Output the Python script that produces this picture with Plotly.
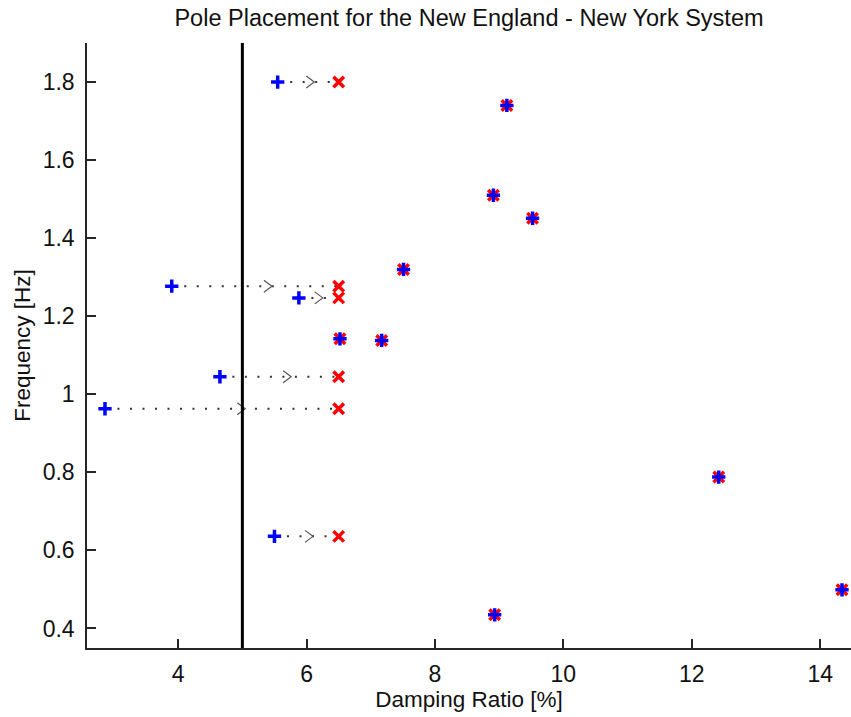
import plotly.graph_objects as go

# ---- data ----
threshold_damping = 5.0

# modes that were moved by the controller (before -> after)
moved_before_damping = [5.55, 3.90, 5.88, 4.65, 2.86, 5.50]
moved_after_damping = [6.50, 6.50, 6.50, 6.50, 6.50, 6.50]
moved_freq = [1.800, 1.277, 1.247, 1.045, 0.963, 0.636]

# modes that were left unchanged (before == after)
fixed_damping = [9.12, 8.91, 9.52, 7.51, 6.52, 7.17, 12.42, 14.34, 8.93]
fixed_freq = [1.740, 1.510, 1.451, 1.320, 1.142, 1.138, 0.788, 0.499, 0.435]

x_tick_vals = [4, 6, 8, 10, 12, 14]
y_tick_vals = [0.4, 0.6, 0.8, 1.0, 1.2, 1.4, 1.6, 1.8]

# ---- layout geometry ----
W, H = 851, 717
ML, MR, MT, MB = 87, 0, 43, 69
x_range = [2.58, 14.48]
y_range = [0.35, 1.90]
px_per_x = (W - ML - MR) / (x_range[1] - x_range[0])
px_per_y = (H - MT - MB) / (y_range[1] - y_range[0])

FONT = "Liberation Sans, Arial, Helvetica, sans-serif"

fig = go.Figure()

# dotted connector lines
lx, ly = [], []
for xb, xa, f in zip(moved_before_damping, moved_after_damping, moved_freq):
    lx += [xb, xa, None]
    ly += [f, f, None]
fig.add_trace(go.Scatter(x=lx, y=ly, mode="lines",
                         line=dict(color="#333333", width=2, dash="2px,10.5px"),
                         hoverinfo="skip"))

# open chevron arrowheads (">") at ~60% of each connector
cx, cy = [], []
arm_dx = 8 / px_per_x
arm_dy = 6 / px_per_y
for xb, xa, f in zip(moved_before_damping, moved_after_damping, moved_freq):
    tip = xb + 0.6 * (xa - xb)
    cx += [tip - arm_dx, tip, tip - arm_dx, None]
    cy += [f + arm_dy, f, f - arm_dy, None]
fig.add_trace(go.Scatter(x=cx, y=cy, mode="lines",
                         line=dict(color="#555555", width=1.2),
                         hoverinfo="skip"))

# red x : placed (after) poles
fig.add_trace(go.Scatter(
    x=moved_after_damping + fixed_damping,
    y=moved_freq + fixed_freq,
    mode="markers", cliponaxis=False,
    marker=dict(symbol="x-thin", size=10.5, color="red",
                line=dict(color="red", width=3.5)),
    name="after"))

# blue + : original (before) poles
fig.add_trace(go.Scatter(
    x=moved_before_damping + fixed_damping,
    y=moved_freq + fixed_freq,
    mode="markers", cliponaxis=False,
    marker=dict(symbol="cross-thin", size=9.5, color="blue",
                line=dict(color="blue", width=3.5)),
    name="before"))

# damping threshold line
fig.add_shape(type="line", xref="x", yref="paper",
              x0=threshold_damping, x1=threshold_damping, y0=0, y1=1,
              line=dict(color="black", width=3))

axis_common = dict(
    showgrid=False, zeroline=False, showline=True, automargin=False,
    linecolor="#262626", linewidth=1.5,
    ticks="inside", ticklen=9, tickwidth=1.5, tickcolor="#262626",
    tickfont=dict(family=FONT, size=23, color="#111111"),
    mirror=False,
)

fig.update_layout(
    width=W, height=H,
    margin=dict(l=ML, r=MR, t=MT, b=MB, autoexpand=False),
    paper_bgcolor="white", plot_bgcolor="white",
    showlegend=False,
    title=dict(text="Pole Placement for the New England - New York System",
               font=dict(family=FONT, size=23.5, color="#111111"),
               x=(ML + (W - MR)) / 2 / W, xanchor="center",
               y=1 - 18 / H, yanchor="middle", yref="container"),
    xaxis=dict(range=x_range, tickvals=x_tick_vals, ticklabelstandoff=5,
               title=dict(text="Damping Ratio [%]",
                          font=dict(family=FONT, size=22.5, color="#111111"),
                          standoff=1),
               **axis_common),
    yaxis=dict(range=y_range, tickvals=y_tick_vals, ticklabelstandoff=6,
               title=dict(text="Frequency [Hz]",
                          font=dict(family=FONT, size=22.5, color="#111111"),
                          standoff=6),
               **axis_common),
)

fig.write_html(
    "out.html",
    config={"displayModeBar": False},
    post_script="document.body.style.margin='0';document.body.style.overflow='hidden';",
)
